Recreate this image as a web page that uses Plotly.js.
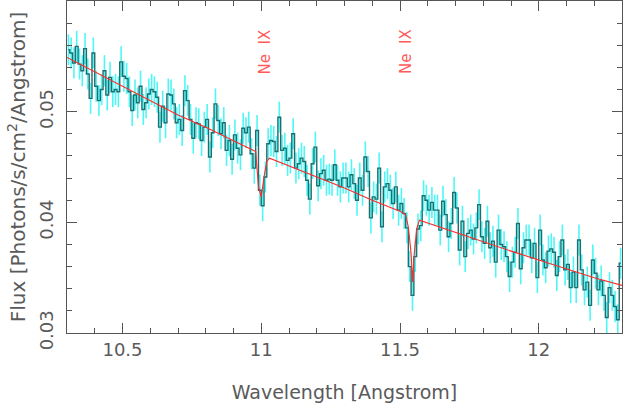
<!DOCTYPE html>
<html>
<head>
<meta charset="utf-8">
<script src="https://cdn.plot.ly/plotly-3.0.1.min.js"></script>
<style>html,body{margin:0;padding:0;background:#fff;}#chart{width:623px;height:405px;}</style>
</head>
<body>
<div id="chart"></div>
<script>
// Spectrum binning (Angstrom)
const binStart = 10.30;
const binWidth = 0.01;

const flux = [
  0.0556,0.0553,0.0544,0.0559,0.0543,0.0537,0.0557,0.0534,0.0512,0.0553,
  0.0523,0.0510,0.0520,0.0537,0.0515,0.0531,0.0518,0.0520,0.0518,0.0545,
  0.0532,0.0530,0.0518,0.0501,0.0515,0.0508,0.0523,0.0502,0.0508,0.0516,
  0.0520,0.0518,0.0513,0.0486,0.0505,0.0490,0.0516,0.0515,0.0507,0.0490,
  0.0493,0.0483,0.0519,0.0510,0.0493,0.0476,0.0490,0.0489,0.0474,0.0486,
  0.0493,0.0459,0.0481,0.0507,0.0492,0.0480,0.0490,0.0465,0.0474,0.0457,
  0.0479,0.0467,0.0461,0.0485,0.0481,0.0486,0.0462,0.0449,0.0483,0.0429,
  0.0415,0.0441,0.0471,0.0474,0.0473,0.0464,0.0495,0.0465,0.0467,0.0456,
  0.0458,0.0480,0.0449,0.0453,0.0458,0.0455,0.0438,0.0421,0.0453,0.0468,
  0.0433,0.0444,0.0447,0.0438,0.0439,0.0438,0.0452,0.0438,0.0432,0.0440,
  0.0440,0.0432,0.0443,0.0435,0.0420,0.0440,0.0429,0.0459,0.0446,0.0404,
  0.0423,0.0421,0.0449,0.0396,0.0432,0.0435,0.0429,0.0417,0.0432,0.0411,
  0.0417,0.0408,0.0395,0.0360,0.0334,0.0369,0.0394,0.0397,0.0424,0.0420,
  0.0411,0.0418,0.0411,0.0411,0.0393,0.0419,0.0407,0.0387,0.0399,0.0427,
  0.0413,0.0375,0.0401,0.0369,0.0390,0.0393,0.0385,0.0395,0.0416,0.0387,
  0.0381,0.0401,0.0377,0.0383,0.0364,0.0393,0.0380,0.0378,0.0369,0.0351,
  0.0364,0.0373,0.0399,0.0358,0.0377,0.0384,0.0384,0.0368,0.0381,0.0350,
  0.0393,0.0366,0.0359,0.0374,0.0376,0.0373,0.0352,0.0369,0.0384,0.0357,
  0.0362,0.0341,0.0355,0.0341,0.0384,0.0357,0.0339,0.0346,0.0325,0.0366,
  0.0354,0.0339,0.0347,0.0334,0.0314,0.0341,0.0334,0.0324,0.0312,0.0363
];
// 1-sigma flux error (approximately uniform across the band)
const fluxErr = 0.0014;

// Model continuum with Ne IX absorption
const modelWave = [10.30,10.40,10.50,10.60,10.70,10.80,10.90,10.98,10.99,11.00,11.01,11.02,11.03,
  11.10,11.20,11.30,11.40,11.50,11.52,11.53,11.54,11.545,11.55,11.56,11.57,
  11.70,11.80,11.90,12.00,12.10,12.20,12.30];
const modelFlux = [0.0549,0.0536,0.0523,0.0510,0.0497,0.0486,0.0474,0.0464,0.0432,0.0423,0.0441,0.0455,0.0458,
  0.0451,0.0441,0.0431,0.0420,0.0410,0.0407,0.0396,0.0372,0.0346,0.0368,0.0394,0.0402,
  0.0391,0.0382,0.0374,0.0366,0.0358,0.0350,0.0343];

// Line identifications
const lineLabels = ["Ne&nbsp;&nbsp;IX","Ne&nbsp;&nbsp;IX"];
const lineWaves = [11.012, 11.522];
const labelFlux = 0.0554;

// Axis ticks
const xTickVals = [10.5, 11, 11.5, 12];
const xTickText = ["10.5", "11", "11.5", "12"];
const yTickVals = [0.03, 0.04, 0.05];
const yTickText = ["0.03", "0.04", "0.05"];

const wave = flux.map((_, i) => +(binStart + binWidth * (i + 0.5)).toFixed(4));

const axisColor = '#555';
const textColor = '#5a5a5a';
const FONT = 'DejaVu Sans, sans-serif';

const traces = [
  {
    x: wave, y: flux, type: 'scatter', mode: 'markers',
    marker: {size: 1, color: 'rgba(0,0,0,0)'},
    error_y: {type: 'constant', value: fluxErr, color: '#4ff6f6', thickness: 1.6, width: 0},
    hoverinfo: 'skip', showlegend: false
  },
  {
    x: wave, y: flux, type: 'scatter', mode: 'lines',
    line: {shape: 'hvh', color: '#1d6f6f', width: 1.4},
    showlegend: false
  },
  {
    x: modelWave, y: modelFlux, type: 'scatter', mode: 'lines',
    line: {color: '#ff2a2a', width: 1.1},
    showlegend: false
  }
];

const annotations = lineLabels.map((t, i) => ({
  x: lineWaves[i], y: labelFlux, xref: 'x', yref: 'y',
  text: t, showarrow: false, textangle: -90,
  font: {family: FONT, size: 15, color: '#ff5a5a'}
}));

const layout = {
  width: 623, height: 405,
  margin: {l: 67, r: 1, t: 1, b: 72},
  paper_bgcolor: '#fff', plot_bgcolor: '#fff',
  font: {family: FONT, color: textColor},
  showlegend: false,
  xaxis: {
    range: [10.3, 12.3], tickvals: xTickVals, ticktext: xTickText,
    ticks: 'inside', ticklen: 10, tickwidth: 1, tickcolor: axisColor,
    minor: {dtick: 0.1, tick0: 10.3, ticks: 'inside', ticklen: 5, tickcolor: axisColor, showgrid: false},
    showline: true, linecolor: axisColor, linewidth: 1, mirror: 'allticks',
    showgrid: false, zeroline: false,
    tickfont: {family: FONT, size: 18, color: textColor},
    title: {text: 'Wavelength [Angstrom]', font: {family: FONT, size: 19, color: textColor}, standoff: 27}
  },
  yaxis: {
    range: [0.03, 0.06], tickvals: yTickVals, ticktext: yTickText, tickangle: -90,
    ticks: 'inside', ticklen: 10, tickwidth: 1, tickcolor: axisColor,
    ticklabelstandoff: 6,
    minor: {dtick: 0.002, tick0: 0.03, ticks: 'inside', ticklen: 5, tickcolor: axisColor, showgrid: false},
    showline: true, linecolor: axisColor, linewidth: 1, mirror: 'allticks',
    showgrid: false, zeroline: false,
    tickfont: {family: FONT, size: 18, color: textColor},
    title: {text: 'Flux [Photons/s/cm<sup>2</sup>/Angstrom]', font: {family: FONT, size: 20, color: textColor}, standoff: 4}
  },
  annotations: annotations
};

Plotly.newPlot('chart', traces, layout, {displayModeBar: false, staticPlot: true});
</script>
</body>
</html>
